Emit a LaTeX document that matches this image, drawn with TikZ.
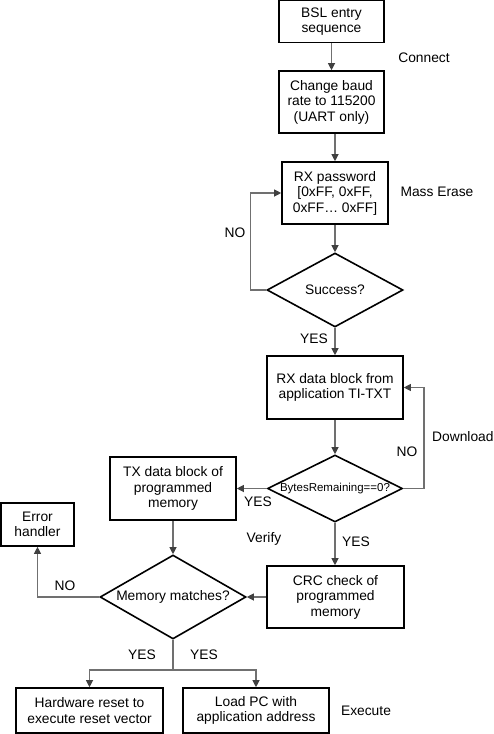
\documentclass[tikz,border=0pt]{standalone}
\usepackage{fontspec}
\setmainfont{Liberation Sans}
\usetikzlibrary{shapes.geometric,arrows.meta}
\definecolor{conn}{HTML}{707070}
\definecolor{tipc}{HTML}{404040}
\begin{document}
\begin{tikzpicture}[x=1pt,y=-1pt,
  every node/.style={font=\fontsize{13.8}{15.5}\selectfont},
  box/.style={draw=black, line width=1.6pt, align=center, inner sep=0pt},
  dia/.style={draw=black, line width=1.6pt, diamond, inner sep=0pt},
  lbl/.style={inner sep=0pt},
  arr/.style={draw=conn, line width=1.1pt, -{Triangle[length=7pt,width=7pt,color=tipc]}},
  ln/.style={draw=conn, line width=1.1pt}]
\useasboundingbox (0,0) rectangle (493,734);
% boxes
\node[box, minimum width=105, minimum height=42] (bsl) at (331.5,21.5) {BSL entry\\sequence};
\node[box, minimum width=105, minimum height=62] (baud) at (331.5,102) {Change baud\\rate to 115200\\(UART only)};
\node[box, minimum width=106, minimum height=62] (pw) at (335,193) {RX password\\{[0xFF, 0xFF,}\\0xFF\dots\ 0xFF]};
\node[dia, minimum width=136, minimum height=74, label={center:Success?}] (s) at (335,290) {};
\node[box, minimum width=136, minimum height=63] (rx) at (335,387.5) {RX data block from\\application TI-TXT};
\node[dia, minimum width=135, minimum height=67, label={center:{\fontsize{11.5}{13}\selectfont BytesRemaining==0?}}] (b) at (335,488.5) {};
\node[box, minimum width=126, minimum height=63] (tx) at (173,488.5) {TX data block of\\programmed\\memory};
\node[box, minimum width=73, minimum height=43] (err) at (37.5,524.5) {Error\\handler};
\node[box, minimum width=137, minimum height=62] (crc) at (335.5,597) {CRC check of\\programmed\\memory};
\node[dia, minimum width=146, minimum height=84, label={center:Memory matches?}] (m) at (173,597) {};
\node[box, minimum width=147, minimum height=45] (hw) at (89.5,710.5) {Hardware reset to\\execute reset vector};
\node[box, minimum width=146, minimum height=45] (pc) at (256,710.5) {Load PC with\\application address};
% labels
\node[lbl] (lc) at (424,58) {Connect};
\node[lbl] (lme) at (437,192) {Mass Erase};
\node[lbl] (ln1) at (235,233) {NO};
\node[lbl] (ly1) at (314,339) {YES};
\node[lbl, anchor=west] (ld) at (432,437) {Download};
\node[lbl] (ln2) at (407,452) {NO};
\node[lbl] (ly2) at (258,502) {YES};
\node[lbl] (lv) at (264,539) {Verify};
\node[lbl] (ly3) at (356,542) {YES};
\node[lbl] (ln3) at (65,586) {NO};
\node[lbl] (ly4) at (142,655) {YES};
\node[lbl] (ly5) at (204,655) {YES};
\node[lbl] (lx) at (366,711) {Execute};
% connectors
\coordinate (split) at (173,670);
\draw[arr] (bsl.south) -- (bsl.south |- baud.north);
\draw[arr] (pw.north |- baud.south) -- (pw.north);
\draw[arr] (pw.south) -- (s.north);
\draw[arr] (s.west) -- ++(-16,0) |- (pw.west);
\draw[arr] (s.south) -- (rx.north);
\draw[arr] (rx.south) -- (b.north);
\draw[arr] (b.east) -- (424,488.5) |- (rx.east);
\draw[arr] (b.west) -- (tx.east);
\draw[arr] (b.south) -- (b.south |- crc.north);
\draw[arr] (crc.west) -- (m.east);
\draw[arr] (tx.south) -- (m.north);
\draw[arr] (m.west) -| (err.south);
\draw[ln] (m.south) -- (split);
\draw[arr] (split) -| (hw.north);
\draw[arr] (split) -| (pc.north);
\end{tikzpicture}
\end{document}
